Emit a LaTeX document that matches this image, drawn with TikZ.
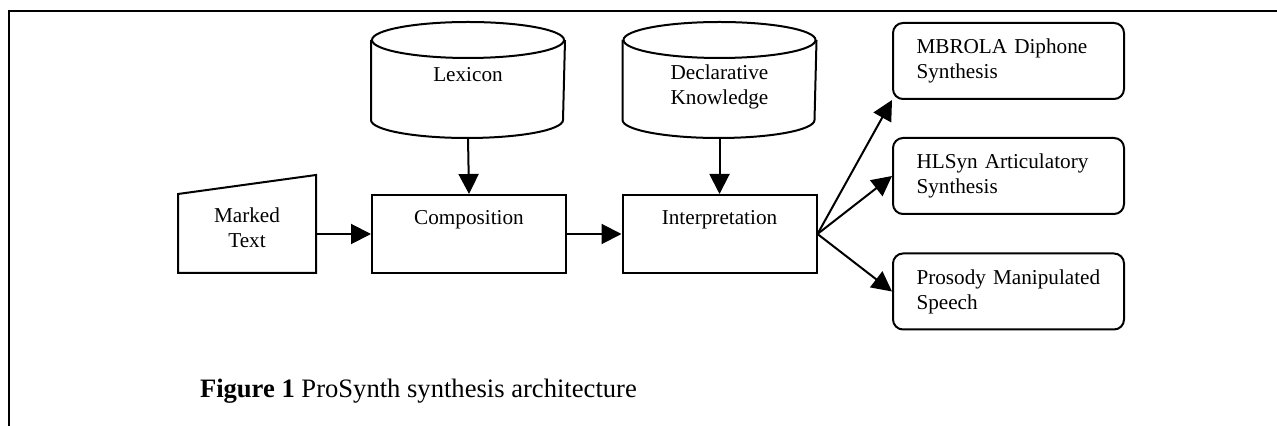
\documentclass[tikz,border=0pt]{standalone}
\usepackage{fontspec}
\setmainfont{Liberation Serif}
\usetikzlibrary{arrows.meta}
\begin{document}
\begin{tikzpicture}[x=0.5pt,y=0.5pt,
  line width=1pt,
  txt/.style={font=\fontsize{10.6}{12.5}\selectfont, align=center, inner sep=0pt},
  procbox/.style={draw, minimum width=97pt, minimum height=39pt, inner sep=0pt},
  dbshape/.style={minimum width=96pt, minimum height=57pt, inner sep=0pt},
  trapshape/.style={minimum width=68pt, minimum height=48pt, inner sep=0pt},
  outbox/.style={draw, rounded corners=5pt, minimum width=115.5pt, minimum height=38pt,
    text width=92pt, inner xsep=11.75pt, inner ysep=0pt, align=left,
    font=\fontsize{10.6}{12.5}\selectfont},
  arr/.style={-{Triangle[length=10pt,width=10pt]}},
]
\useasboundingbox (0,0) rectangle (1277,-426);

% frame (top and left edges)
\draw (9,-426) -- (9,-11) -- (1277,-11);

% cylinders
\node[dbshape] (lex) at (468,-80) {};
\node[dbshape] (dk) at (719.5,-80) {};
\foreach \n in {lex,dk}{
  \draw ([yshift=-9pt]\n.north west) -- ([yshift=9pt]\n.south west)
     arc[start angle=180,end angle=360,x radius=48pt,y radius=9pt]
     -- ([yshift=-9pt]\n.north east);
  \draw ([yshift=-9pt]\n.north) ellipse[x radius=48pt,y radius=9pt];
}
\node[txt] (lexlbl) at (468,-75) {Lexicon};
\node[txt] (dklbl) at (719.5,-87) {Declarative\\Knowledge};

% marked text (manual input shape)
\node[trapshape] (mt) at (247,-224) {};
\draw[line join=miter] (mt.south west) -- ([yshift=-9.5pt]mt.north west) -- (mt.north east)
   -- (mt.south east) -- cycle;
\node[txt] (mtlbl) at (247,-228) {Marked\\Text};

% process boxes
\node[procbox] (comp) at (469,-234) {};
\node[txt] (complbl) at (469,-220) {Composition};
\node[procbox] (interp) at (719.5,-234) {};
\node[txt] (interplbl) at (719.5,-220) {Interpretation};

% output boxes
\node[outbox] (m1) at (1008.5,-61) {\mbox{MBROLA Diphone}\\Synthesis};
\node[outbox] (m2) at (1008.5,-176) {\mbox{HLSyn Articulatory}\\Synthesis};
\node[outbox] (m3) at (1008.5,-291.5) {\mbox{Prosody Manipulated}\\Speech};

% connectors
\draw[arr] (lex.south) -- (comp.north);
\draw[arr] (dk.south) -- (interp.north);
\draw[arr] (mt.east |- comp.west) -- (comp.west);
\draw[arr] (comp.east) -- (interp.west);
\draw[arr] (interp.east) -- (m1.south west);
\draw[arr] (interp.east) -- (m2.west);
\draw[arr] (interp.east) -- (m3.west);

% caption
\node[anchor=west, inner sep=0pt, font=\fontsize{13.3}{15}\selectfont] (cap) at (199,-391)
  {\textbf{Figure 1} ProSynth synthesis architecture};
\end{tikzpicture}
\end{document}
